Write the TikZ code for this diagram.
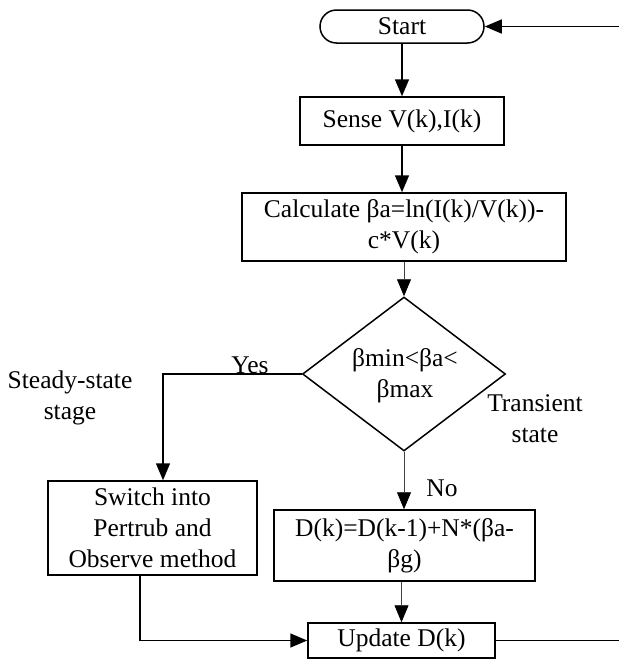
\documentclass[tikz,border=0pt]{standalone}
\usepackage{fontspec}
\setmainfont{Liberation Serif}
\usetikzlibrary{shapes.geometric,arrows.meta}
\begin{document}
\begin{tikzpicture}[x=1pt,y=-1pt,
  every node/.style={font=\fontsize{25.5}{31}\selectfont, align=center},
  box/.style={draw, line width=1.5pt, inner sep=0pt},
  arr/.style={line width=1.5pt, -{Triangle[length=17pt,width=14pt]}},
  tarr/.style={line width=0.8pt, draw=black!75, -{Triangle[length=17pt,width=14pt,color=black,fill=black]}},
  lbl/.style={inner sep=0pt}]
\useasboundingbox (0,0) rectangle (619,659);
\node[box, rounded corners=16.5pt, minimum width=164pt, minimum height=33pt] (start) at (402,26.5) {Start};
\node[box, minimum width=204pt, minimum height=48pt] (sense) at (402,121) {Sense V(k),I(k)};
\node[box, minimum width=324pt, minimum height=68pt] (calc) at (404,227) {Calculate βa=ln(I(k)/V(k))-\\c*V(k)};
\node[draw, line width=1.5pt, shape=diamond, inner sep=0pt, minimum width=203pt, minimum height=154pt] (dec) at (404,374) {};
\node[lbl] (dectext) at (405,376) {βmin<βa<\\βmax};
\node[box, minimum width=209pt, minimum height=94pt] (sw) at (152.5,528) {Switch into\\Pertrub and\\Observe method};
\node[box, minimum width=261pt, minimum height=71pt] (dk) at (404.5,545.5) {D(k)=D(k-1)+N*(βa-\\βg)};
\node[box, minimum width=187pt, minimum height=35pt] (up) at (401.5,640.5) {Update D(k)};
\coordinate (e1) at (619,26.5);
\coordinate (e2) at (619,640.5);
\node[lbl] (yes) at (250,365) {Yes};
\node[lbl] (no) at (442,488) {No};
\node[lbl] (steady) at (70,398) {Steady-state\\stage};
\node[lbl] (trans) at (535,419) {Transient\\state};
\draw[arr] (e1) -- (start.east);
\draw[arr] (start.south) -- (sense.north);
\draw[arr] (sense.south) -- (sense.south |- calc.north);
\draw[tarr] (dec.north |- calc.south) -- (dec.north);
\draw[arr] (dec.west) -| ([xshift=10.5pt]sw.north);
\draw[tarr] (dec.south) -- (dk.north -| dec.south);
\draw[tarr] (up.north |- dk.south) -- (up.north);
\draw[arr] ([xshift=-12.5pt]sw.south) |- (up.west);
\draw[line width=1.5pt] (up.east) -- (e2);
\end{tikzpicture}
\end{document}
